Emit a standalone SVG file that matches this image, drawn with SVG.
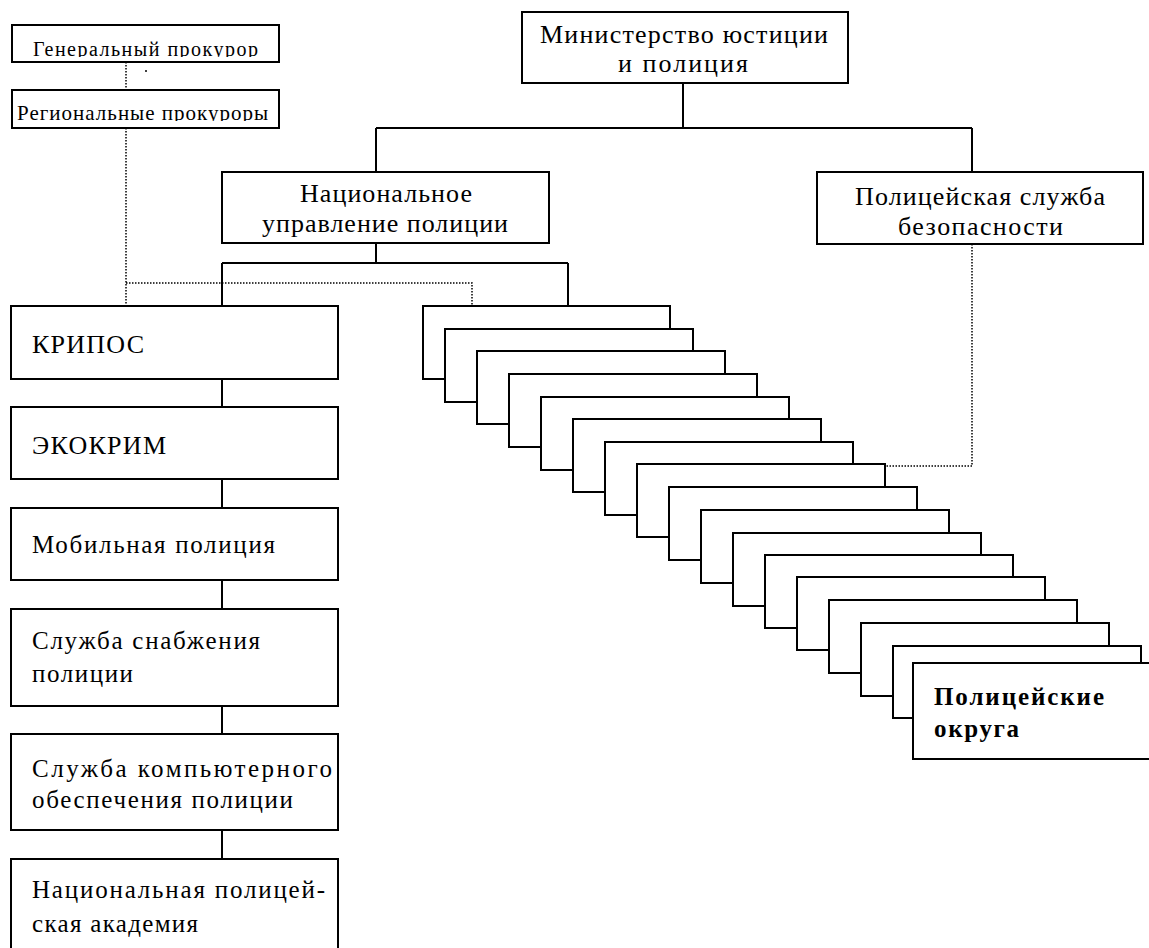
<svg xmlns="http://www.w3.org/2000/svg" width="1149" height="948" viewBox="0 0 1149 948">
<defs>
<style>
.b{fill:#fff;stroke:#000;stroke-width:2}
.t{font-family:"Liberation Serif","Times New Roman",serif;font-size:25px;fill:#000}
.tb{font-family:"Liberation Serif","Times New Roman",serif;font-size:25px;font-weight:bold;fill:#000}
.c{fill:none;stroke:#000;stroke-width:2}
.d{fill:none;stroke:#000;stroke-width:1.5;stroke-dasharray:1.5 1.5}
</style>
<clipPath id="clipGen"><rect x="12" y="25" width="267" height="32"/></clipPath>
<clipPath id="clipReg"><rect x="12" y="90" width="267" height="31"/></clipPath>
</defs>
<rect width="1149" height="948" fill="#fff"/>

<g id="connectors">
<path class="c" d="M683 83V128M376 128H972M376 128V172M972 128V172"/>
<path class="c" d="M376 243V263M222 263H568M222 263V306M568 263V306"/>
<path class="c" d="M222 379V407M222 479V508M222 580V609M222 706V734M222 830V859"/>
<path class="d" d="M126 62V90M126 128V306M126 283H472V306"/>
<path class="d" d="M972 244V466H886"/>
<circle cx="146" cy="71" r="1" fill="#000"/>
<circle cx="972" cy="208" r="1" fill="#000"/>
</g>

<g id="gen-prokuror">
<rect class="b" x="12" y="25" width="267" height="37"/>
<text class="t" clip-path="url(#clipGen)" style="font-size:20px" x="33" y="56" textLength="225" lengthAdjust="spacing">Генеральный прокурор</text>
</g>
<g id="reg-prokurory">
<rect class="b" x="12" y="90" width="267" height="38"/>
<text class="t" clip-path="url(#clipReg)" style="font-size:21px" x="17" y="120" textLength="251" lengthAdjust="spacing">Региональные прокуроры</text>
</g>

<g id="ministry">
<rect class="b" x="522" y="12" width="326" height="71"/>
<text class="t" style="font-size:26px" x="540" y="43" textLength="288" lengthAdjust="spacing">Министерство юстиции</text>
<text class="t" style="font-size:26px" x="618" y="72" textLength="130" lengthAdjust="spacing">и полиция</text>
</g>

<g id="nup">
<rect class="b" x="222" y="172" width="327" height="71"/>
<text class="t" style="font-size:26px" x="300" y="202" textLength="172" lengthAdjust="spacing">Национальное</text>
<text class="t" style="font-size:26px" x="262" y="232" textLength="246" lengthAdjust="spacing">управление полиции</text>
</g>

<g id="psb">
<rect class="b" x="817" y="172" width="326" height="72"/>
<text class="t" style="font-size:26px" x="855" y="205" textLength="250" lengthAdjust="spacing">Полицейская служба</text>
<text class="t" style="font-size:26px" x="898" y="235" textLength="165" lengthAdjust="spacing">безопасности</text>
</g>

<g id="kripos">
<rect class="b" x="11" y="306" width="327" height="73"/>
<text class="t" style="font-size:26px" x="32" y="353" textLength="112" lengthAdjust="spacing">КРИПОС</text>
</g>
<g id="ekokrim">
<rect class="b" x="11" y="407" width="327" height="72"/>
<text class="t" style="font-size:26px" x="32" y="454" textLength="134" lengthAdjust="spacing">ЭКОКРИМ</text>
</g>
<g id="mobile">
<rect class="b" x="11" y="508" width="327" height="72"/>
<text class="t" x="32" y="553" textLength="243" lengthAdjust="spacing">Мобильная полиция</text>
</g>
<g id="supply">
<rect class="b" x="11" y="609" width="327" height="97"/>
<text class="t" x="32" y="649" textLength="228" lengthAdjust="spacing">Служба снабжения</text>
<text class="t" x="32" y="682" textLength="101" lengthAdjust="spacing">полиции</text>
</g>
<g id="computer">
<rect class="b" x="11" y="734" width="327" height="96"/>
<text class="t" x="32" y="777" textLength="300" lengthAdjust="spacing">Служба компьютерного</text>
<text class="t" x="32" y="808" textLength="261" lengthAdjust="spacing">обеспечения полиции</text>
</g>
<g id="academy">
<rect class="b" x="11" y="859" width="327" height="110"/>
<text class="t" x="32" y="898" textLength="293" lengthAdjust="spacing">Национальная полицей-</text>
<text class="t" x="32" y="932" textLength="166" lengthAdjust="spacing">ская академия</text>
</g>

<g id="districts-stack">
<rect class="b" x="423" y="306" width="247" height="73"/>
<rect class="b" x="445" y="329" width="248" height="73"/>
<rect class="b" x="477" y="351" width="248" height="73"/>
<rect class="b" x="509" y="374" width="248" height="73"/>
<rect class="b" x="541" y="397" width="248" height="73"/>
<rect class="b" x="573" y="419" width="248" height="73"/>
<rect class="b" x="605" y="442" width="248" height="73"/>
<rect class="b" x="637" y="464" width="248" height="73"/>
<rect class="b" x="669" y="487" width="248" height="73"/>
<rect class="b" x="701" y="510" width="248" height="73"/>
<rect class="b" x="733" y="533" width="248" height="73"/>
<rect class="b" x="765" y="555" width="248" height="73"/>
<rect class="b" x="797" y="577" width="248" height="73"/>
<rect class="b" x="829" y="600" width="248" height="73"/>
<rect class="b" x="861" y="623" width="248" height="73"/>
<rect class="b" x="893" y="646" width="248" height="72"/>
</g>
<g id="districts">
<rect class="b" x="913" y="663" width="260" height="96"/>
<text class="tb" x="934" y="705" textLength="170" lengthAdjust="spacing">Полицейские</text>
<text class="tb" x="934" y="737" textLength="85" lengthAdjust="spacing">округа</text>
</g>
</svg>
